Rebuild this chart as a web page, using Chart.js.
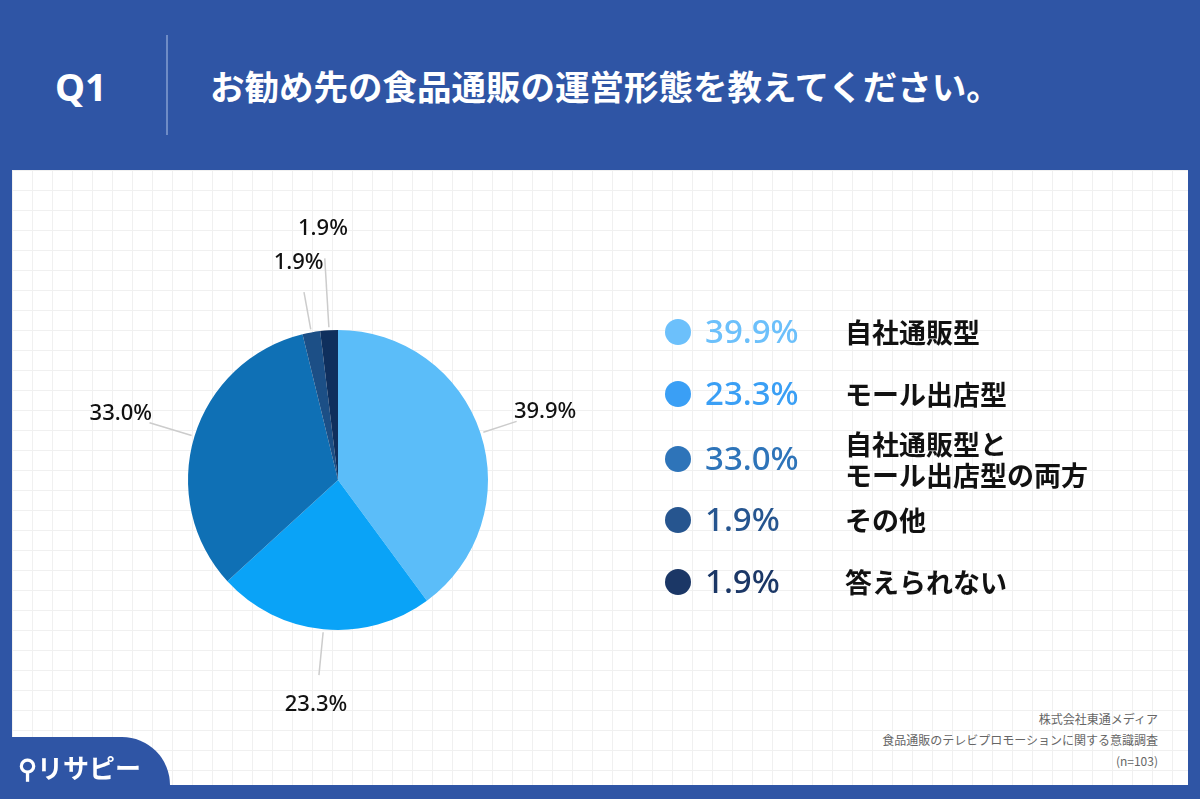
<!DOCTYPE html>
<html lang="ja">
<head>
<meta charset="UTF-8">
<title>Q1 食品通販の運営形態</title>
<script src="https://cdn.jsdelivr.net/npm/chart.js@4.4.1/dist/chart.umd.min.js"></script>
<style>
  html, body { margin: 0; padding: 0; }
  body { width: 1200px; height: 799px; background: #2f55a5; position: relative; overflow: hidden;
         font-family: "Noto Sans CJK JP", "Noto Sans", sans-serif; }
  .q { position: absolute; left: 55px; top: 60px; color: #fff; font: 700 38px "Noto Sans", sans-serif; }
  .sep { position: absolute; left: 166px; top: 35px; width: 2px; height: 100px; background: #6f8cc6; }
  .title { position: absolute; left: 210px; top: 60px; color: #fff; font-weight: 700; font-size: 34.5px; }
  .panel { position: absolute; left: 12px; top: 170px; width: 1176px; height: 615px; background-color: #fff;
           background-image: linear-gradient(#f0f0f0 1px, transparent 1px), linear-gradient(90deg, #f0f0f0 1px, transparent 1px);
           background-size: 20px 20px; }
  canvas { position: absolute; left: 0; top: 170px; }
  .legend { position: absolute; left: 665px; top: 310px; }
  .row { position: relative; height: 62px; }
  .dot { position: absolute; left: 0; width: 26px; height: 26px; border-radius: 50%; top: 9px; }
  .val { position: absolute; left: 40px; top: -1px; font: 500 33px "Noto Sans", sans-serif; line-height: 44px; }
  .lab { position: absolute; left: 180px; font-weight: 700; font-size: 27px; color: #111; line-height: 31px; top: 6px; white-space: nowrap; }
  .src { position: absolute; right: 42px; top: 708px; text-align: right; color: #666; font-size: 12px; line-height: 21px; }
  .tab { position: absolute; left: 0; top: 737px; width: 170px; height: 62px; background: #2f55a5; border-top-right-radius: 48px; }
  .logo { position: absolute; left: 18px; top: 748px; color: #fff; font-weight: 700; font-size: 26px; }
</style>
</head>
<body>
<div class="q">Q1</div>
<div class="sep"></div>
<div class="title">お勧め先の食品通販の運営形態を教えてください。</div>
<div class="panel"></div>
<canvas id="pie" width="676" height="620"></canvas>
<div class="legend" id="legend"></div>
<div class="src">株式会社東通メディア<br>食品通販のテレビプロモーションに関する意識調査<br>(n=103)</div>
<div class="tab"></div>
<div class="logo">⚲リサピー</div>
<script>
var categories = ['自社通販型', 'モール出店型', '自社通販型と<br>モール出店型の両方', 'その他', '答えられない'];
var values = [39.9, 23.3, 33.0, 1.9, 1.9];
var sliceColors = ['#5bbdf9', '#0aa3f7', '#0f70b5', '#1c4f86', '#0f2f5d'];
var legendColors = ['#6cc0fb', '#3a9ff5', '#2e74b9', '#26558f', '#1b3766'];
var labelRadius = [218, 226, 227, 221, 252];

var legend = document.getElementById('legend');
categories.forEach(function (c, i) {
  var row = document.createElement('div');
  row.className = 'row';
  if (i === 2) row.style.height = '64px';
  var labTop = i === 2 ? 'top:-6px;' : '';
  row.innerHTML = '<div class="dot" style="background:' + legendColors[i] + (i === 2 ? ';top:12px' : '') + '"></div>' +
    '<div class="val" style="color:' + legendColors[i] + (i === 2 ? ';top:2px' : '') + '">' + values[i].toFixed(1) + '%</div>' +
    '<div class="lab" style="' + labTop + '">' + c + '</div>';
  legend.appendChild(row);
});

var outerLabels = {
  id: 'outerLabels',
  afterDraw: function (chart) {
    var ctx = chart.ctx;
    var arcs = chart.getDatasetMeta(0).data;
    ctx.save();
    arcs.forEach(function (a, i) {
      var mid = (a.startAngle + a.endAngle) / 2;
      var cx = a.x, cy = a.y, r = a.outerRadius;
      var lr = labelRadius[i];
      ctx.strokeStyle = '#cccccc';
      ctx.lineWidth = 1.5;
      ctx.beginPath();
      ctx.moveTo(cx + Math.cos(mid) * (r + 3), cy + Math.sin(mid) * (r + 3));
      ctx.lineTo(cx + Math.cos(mid) * (lr - 30), cy + Math.sin(mid) * (lr - 30));
      ctx.stroke();
      ctx.fillStyle = '#111';
      ctx.font = '500 22px "Noto Sans", sans-serif';
      ctx.textAlign = 'center';
      ctx.textBaseline = 'middle';
      ctx.fillText(values[i].toFixed(1) + '%', cx + Math.cos(mid) * lr, cy + Math.sin(mid) * lr);
    });
    ctx.restore();
  }
};

new Chart(document.getElementById('pie'), {
  type: 'pie',
  data: {
    labels: categories.map(function (c) { return c.replace('<br>', ''); }),
    datasets: [{ data: values, backgroundColor: sliceColors, borderWidth: 0 }]
  },
  options: {
    responsive: false,
    animation: false,
    layout: { padding: { top: 160, bottom: 160, left: 188, right: 188 } },
    plugins: { legend: { display: false }, tooltip: { enabled: false } }
  },
  plugins: [outerLabels]
});
</script>
</body>
</html>
